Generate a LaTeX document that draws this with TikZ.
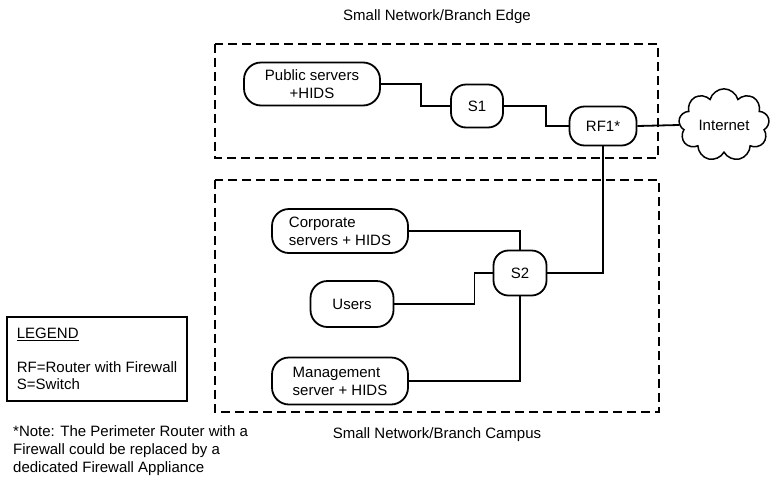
\documentclass[tikz,border=0pt]{standalone}
\usepackage{fontspec}
\setmainfont{Liberation Sans}
\usetikzlibrary{shapes.symbols}

\tikzset{
  dev/.style={draw, line width=1.8pt, rounded corners=17pt, align=center,
    minimum height=43pt, inner sep=2pt},
  sw/.style={dev, minimum width=52pt, rounded corners=15pt},
  zone/.style={draw, line width=1.8pt, dash pattern=on 9pt off 5pt},
  link/.style={line width=1.8pt},
}

\begin{document}
\begin{tikzpicture}[x=1pt, y=-1pt, font=\fontsize{15}{18}\selectfont]
    \useasboundingbox (0,0) rectangle (770,477);
    % zones
    \draw[zone] (215,44) rectangle (658,158);
    \draw[zone] (215,180) rectangle (659,412);
    \node (edge) at (437,17) {Small Network/Branch Edge};
    \node (campus) at (437,435) {Small Network/Branch Campus};
    % devices
    \node[dev, minimum width=136pt] (pub) at (312,84) {Public servers\\+HIDS};
    \node[sw] (s1) at (477,106) {S1};
    \node[sw, minimum width=67pt, minimum height=39pt] (rf1) at (603,126) {RF1*};
    \node[cloud, draw, cloud puffs=9, aspect=1.5, line width=1.5pt,
      minimum width=88pt, minimum height=60pt] (net) at (724,125) {Internet};
    \node[dev, align=left, minimum width=136pt, minimum height=44pt] (corp) at (340,231) {Corporate\\servers + HIDS};
    \node[sw, minimum width=53pt, minimum height=45pt] (s2) at (520,273) {S2};
    \node[dev, minimum width=83pt, minimum height=46pt] (users) at (352,304) {Users};
    \node[dev, align=left, minimum width=136pt, minimum height=47pt] (mgmt) at (340,381) {Management\\server + HIDS};
    % links
    \draw[link] (pub.east) -- ++(40,0) |- (s1.west);
    \draw[link] (s1.east) -- ++(42,0) |- (rf1.west);
    \draw[link] (rf1.east) -- (net.west);
    \draw[link] (rf1.south) |- (s2.east);
    \draw[link] (corp.east) -| (s2.north);
    \draw[link] (users.east) -- ++(80,0) |- (s2.west);
    \draw[link] (mgmt.east) -| (s2.south);
    % legend and note
    \node[draw, line width=1.8pt, anchor=north west, align=left,
      minimum width=179pt, minimum height=84pt, inner xsep=10pt,
      font=\fontsize{15}{17}\selectfont]
      (legend) at (6,316) {\underline{LEGEND}\\[17pt]RF=Router with Firewall\\S=Switch};
    \node[anchor=north west, align=left, inner sep=0pt] (note) at (13,425)
      {*Note: The Perimeter Router with a\\Firewall could be replaced by a\\dedicated Firewall Appliance};
\end{tikzpicture}
\end{document}
